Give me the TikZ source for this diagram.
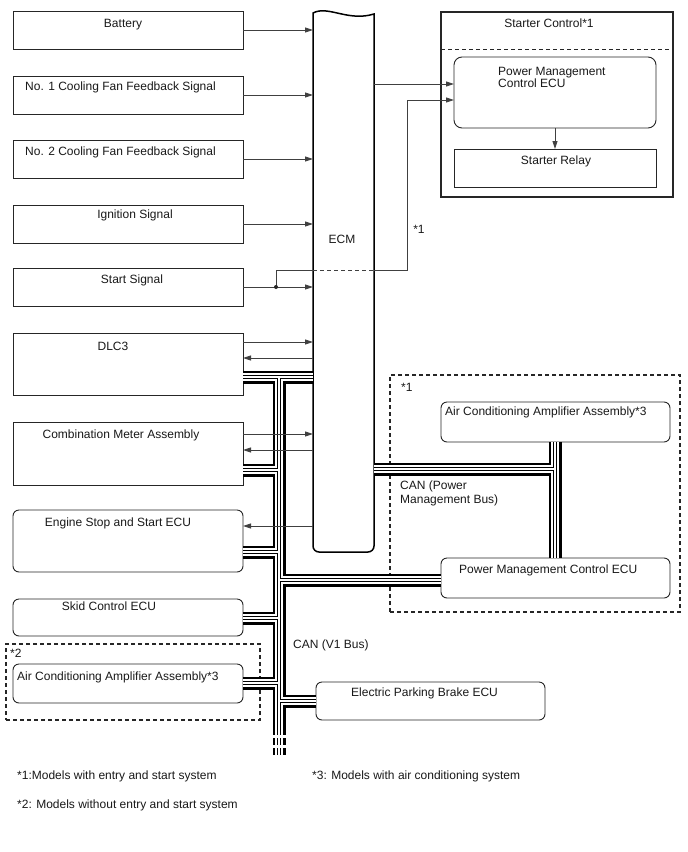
\documentclass[tikz,border=0pt]{standalone}
\usepackage{fontspec}
\setmainfont{Liberation Sans}
\usetikzlibrary{arrows.meta}
\tikzset{
 box/.style={draw=black!85, line width=0.9pt, fill=white, inner sep=0pt, outer sep=0pt, rectangle},
 rbox/.style={box, rounded corners=6pt},
 txt/.style={font=\fontsize{12}{14}\selectfont, inner sep=0pt, text=black!90, text height=8.6pt, text depth=2.4pt},
 conn/.style={draw=black!75, line width=0.9pt},
 arr/.style={conn, -{Triangle[length=8pt,width=5pt]}},
 dbox/.style={draw=black!85, line width=1.3pt, dash pattern=on 4pt off 3pt, inner sep=0pt, outer sep=0pt, rectangle},
 ecmline/.style={draw=black, line width=1.5pt, fill=white},
}
\newcommand{\canbus}[1]{%
 \draw[#1] (dlc.east |- tA) -- (ecm.west |- tA)
   (tA) -- (tB)
   (comb.east |- 0,470) -- (tA |- 0,470)
   (esse.east |- 0,552) -- (tA |- 0,552)
   (skid.east |- 0,618) -- (tA |- 0,618)
   (acl.east |- 0,683) -- (tA |- 0,683)
   (tA |- 0,580) -- (pmcb.west |- 0,580)
   (tA |- 0,701) -- (epb.west |- 0,701)
   (ecm.east |- tC) -- (tC)
   (acr.south -| tC) -- (pmcb.north -| tC)
   (tA |- 0,738) -- (tA |- 0,745)
   (tA |- 0,748) -- (tA |- 0,755);}
\begin{document}
\begin{tikzpicture}[x=1pt,y=-1pt]
\useasboundingbox[fill=white] (0,0) rectangle (688,852);

% dashed group boxes
\node[dbox, minimum width=290pt, minimum height=237pt] (d1) at (535,493.5) {};
\node[dbox, minimum width=254pt, minimum height=76pt] (d2) at (133,682) {};

% left boxes
\node[box, minimum width=230pt, minimum height=38pt] (bat) at (128,30) {};
\node[box, minimum width=230pt, minimum height=38pt] (no1) at (128,95) {};
\node[box, minimum width=230pt, minimum height=38pt] (no2) at (128,159) {};
\node[box, minimum width=230pt, minimum height=38pt] (ign) at (128,224) {};
\node[box, minimum width=230pt, minimum height=38pt] (start) at (128,287) {};
\node[box, minimum width=230pt, minimum height=62pt] (dlc) at (128,364) {};
\node[box, minimum width=230pt, minimum height=63pt] (comb) at (128,453.5) {};
\node[rbox, minimum width=230pt, minimum height=62pt] (esse) at (128,541) {};
\node[rbox, minimum width=230pt, minimum height=37pt] (skid) at (128,617.5) {};
\node[rbox, minimum width=230pt, minimum height=39pt] (acl) at (128,683.5) {};

% right boxes
\node[box, line width=1.2pt, minimum width=232pt, minimum height=185pt] (sc) at (557,104.5) {};
\node[rbox, rounded corners=8pt, minimum width=202pt, minimum height=71pt] (pmca) at (555,92.5) {};
\node[box, minimum width=202pt, minimum height=38pt] (relay) at (555,168) {};
\node[rbox, minimum width=229pt, minimum height=40pt] (acr) at (555.5,422) {};
\node[rbox, minimum width=229pt, minimum height=40pt] (pmcb) at (555.5,578) {};
\node[rbox, minimum width=229pt, minimum height=38pt] (epb) at (430.5,701) {};

% ECM
\node[inner sep=0pt, outer sep=0pt, minimum width=61pt, minimum height=538pt] (ecm) at (343.5,283) {};
\draw[ecmline] (313,13) .. controls (328,5) and (348,22) .. (374,14) -- (374,546)
  arc[start angle=0, end angle=90, radius=6] -- (319,552)
  arc[start angle=90, end angle=180, radius=6] -- cycle;

% coordinates for bus
\coordinate (tA) at (279,377);
\coordinate (tB) at (279,735);
\coordinate (tC) at (555,469);

% starter control divider
\draw[black!85, line width=0.9pt, dash pattern=on 4pt off 3pt] (sc.west |- 0,49) -- (sc.east |- 0,49);

% CAN bus
\canbus{line width=13pt, black}
\canbus{line width=8pt, white}
\canbus{line width=4pt, black}
\canbus{line width=2pt, white}

% signal arrows to ECM
\draw[arr] (bat.east) -- (bat.east -| ecm.west);
\draw[arr] (no1.east) -- (no1.east -| ecm.west);
\draw[arr] (no2.east) -- (no2.east -| ecm.west);
\draw[arr] (ign.east) -- (ign.east -| ecm.west);
\draw[arr] (start.east) -- (start.east -| ecm.west);
\draw[arr] (dlc.east |- 0,342) -- (ecm.west |- 0,342);
\draw[arr] (ecm.west |- 0,358) -- (dlc.east |- 0,358);
\draw[arr] (comb.east |- 0,434) -- (ecm.west |- 0,434);
\draw[arr] (ecm.west |- 0,450) -- (comb.east |- 0,450);
\draw[arr] (ecm.west |- 0,526) -- (esse.east |- 0,526);

% start signal branch to power management ECU
\coordinate (sj) at (276,287);
\coordinate (sl) at (276,270);
\coordinate (su) at (407,100);
\draw[conn] (sj) -- (sl) -- (sl -| ecm.west);
\draw[conn, dash pattern=on 4pt off 3pt] (sl -| ecm.west) -- (sl -| ecm.east);
\draw[arr] (sl -| ecm.east) -| (su) -- (su -| pmca.west);
\fill[black!85] (sj) circle (2pt);
\draw[arr] (ecm.east |- 0,84) -- (pmca.west |- 0,84);
\draw[arr] (pmca.south) -- (relay.north);

% texts
\node[txt] (tbat) at (123,24) {Battery};
\node[txt, anchor=west] (tno1) at (25,87) {No. 1 Cooling Fan Feedback Signal};
\node[txt, anchor=west] (tno2) at (25,152) {No. 2 Cooling Fan Feedback Signal};
\node[txt] (tign) at (135,215) {Ignition Signal};
\node[txt] (tstart) at (132,280) {Start Signal};
\node[txt] (tdlc) at (113,347) {DLC3};
\node[txt] (tcomb) at (121,435) {Combination Meter Assembly};
\node[txt] (tesse) at (118,523) {Engine Stop and Start ECU};
\node[txt] (tskid) at (109,607) {Skid Control ECU};
\node[txt, anchor=west] (tacl) at (17,677) {Air Conditioning Amplifier Assembly*3};
\node[txt, anchor=west] (tst2) at (10,654) {*2};
\node[txt] (tecm) at (342,240) {ECM};
\node[txt] (tst1a) at (419,230) {*1};
\node[txt] (tsc) at (549,24) {Starter Control*1};
\node[txt, anchor=west] (tpmca1) at (498,72) {Power Management};
\node[txt, anchor=west] (tpmca2) at (498,84.5) {Control ECU};
\node[txt] (trelay) at (556,161) {Starter Relay};
\node[txt, anchor=west] (tst1b) at (401,388) {*1};
\node[txt, anchor=west] (tacr) at (445,412) {Air Conditioning Amplifier Assembly*3};
\node[txt, anchor=west] (tcan1) at (400,486) {CAN (Power};
\node[txt, anchor=west] (tcan2) at (400,500) {Management Bus)};
\node[txt, anchor=west] (tpmcb) at (459,570) {Power Management Control ECU};
\node[txt, anchor=west] (tcanv) at (293,645) {CAN (V1 Bus)};
\node[txt, anchor=west] (tepb) at (351,693) {Electric Parking Brake ECU};
\node[txt, anchor=west] (fn1) at (17,776) {*1:Models with entry and start system};
\node[txt, anchor=west] (fn3) at (312,776) {*3: Models with air conditioning system};
\node[txt, anchor=west] (fn2) at (17,805) {*2: Models without entry and start system};
\end{tikzpicture}
\end{document}
